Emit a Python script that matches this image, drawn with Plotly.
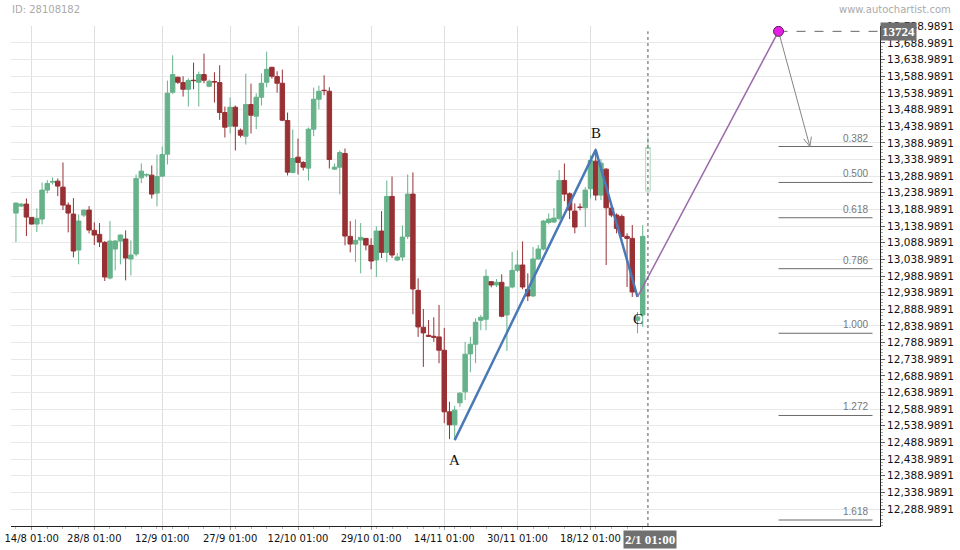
import math
import plotly.graph_objects as go

# ---------------- data ----------------
opens = [13178, 13199, 13205, 13165, 13145, 13160, 13247, 13271, 13274, 13256,
         13202, 13175, 13067, 13172, 13187, 13126, 13114, 13090, 12983, 13070,
         13094, 13100, 13040, 13055, 13284, 13292, 13292, 13238, 13289, 13355,
         13541, 13586, 13570, 13550, 13577, 13571, 13594, 13559, 13573, 13570,
         13480, 13439, 13496, 13427, 13409, 13504, 13469, 13526, 13571, 13616,
         13588, 13568, 13456, 13300, 13346, 13330, 13313, 13430, 13520, 13547,
         13544, 13310, 13316, 13357, 13108, 13085, 13097, 13102, 13081, 13037,
         13124, 13060, 13228, 13037, 13046, 13108, 13235, 12946, 12835, 12811,
         12808, 12806, 12766, 12581, 12542, 12608, 12641, 12755, 12784, 12856,
         12859, 12972, 12962, 12970, 12872, 12956, 13006, 13022, 12949, 12929,
         13040, 13070, 13150, 13151, 13162, 13276, 13236, 13184, 13196, 13194,
         13251, 13334, 13232, 13310, 13193, 13172, 13168, 13108, 13102, 12856,
         12872, 13244]
highs = [13210, 13208, 13222, 13166, 13192, 13270, 13277, 13285, 13282, 13330,
         13210, 13223, 13174, 13188, 13199, 13150, 13148, 13094, 13154, 13097,
         13114, 13126, 13096, 13294, 13327, 13297, 13321, 13354, 13378, 13576,
         13652, 13588, 13589, 13583, 13630, 13603, 13657, 13579, 13601, 13622,
         13498, 13525, 13501, 13432, 13597, 13567, 13538, 13598, 13663, 13617,
         13604, 13609, 13480, 13429, 13402, 13334, 13435, 13555, 13561, 13592,
         13556, 13327, 13366, 13372, 13154, 13159, 13148, 13103, 13102, 13138,
         13184, 13276, 13288, 13058, 13141, 13294, 13300, 12982, 12890, 12857,
         12865, 12902, 12833, 12611, 12599, 12640, 12791, 12806, 12862, 12872,
         13009, 12974, 12980, 12994, 12957, 13061, 13066, 13093, 12997, 13076,
         13082, 13157, 13177, 13193, 13307, 13327, 13240, 13207, 13207, 13256,
         13352, 13372, 13340, 13313, 13196, 13177, 13174, 13117, 13142, 12881,
         13142, 13408]
lows = [13091, 13196, 13109, 13144, 13121, 13144, 13237, 13264, 13229, 13187,
        13120, 13045, 13024, 13166, 13117, 13082, 13076, 12974, 12979, 13006,
        13024, 12976, 12991, 13048, 13268, 13286, 13222, 13198, 13287, 13324,
        13536, 13566, 13528, 13498, 13550, 13498, 13568, 13556, 13510, 13458,
        13405, 13417, 13366, 13405, 13384, 13417, 13430, 13501, 13556, 13582,
        13540, 13454, 13291, 13298, 13294, 13306, 13276, 13409, 13490, 13532,
        13312, 13309, 13234, 13081, 13060, 13031, 12997, 13066, 13009, 12986,
        13043, 13030, 13043, 13034, 13034, 13100, 12874, 12806, 12716, 12806,
        12791, 12727, 12547, 12499, 12496, 12596, 12616, 12700, 12727, 12826,
        12826, 12955, 12956, 12865, 12764, 12952, 13001, 12949, 12914, 12926,
        13038, 13066, 13144, 13149, 13156, 13214, 13160, 13117, 13186, 13136,
        13222, 13216, 13217, 13022, 13166, 13117, 13106, 12956, 12926, 12817,
        12836, 13232]
closes = [13208, 13205, 13166, 13145, 13162, 13247, 13267, 13273, 13259, 13202,
          13178, 13064, 13154, 13187, 13127, 13112, 13091, 12986, 13094, 13094,
          13112, 13043, 13052, 13282, 13304, 13294, 13235, 13288, 13354, 13538,
          13594, 13571, 13550, 13576, 13576, 13594, 13577, 13574, 13572, 13480,
          13436, 13496, 13439, 13412, 13504, 13472, 13526, 13568, 13610, 13589,
          13568, 13457, 13301, 13342, 13330, 13316, 13430, 13520, 13544, 13546,
          13339, 13316, 13360, 13109, 13085, 13096, 13105, 13082, 13034, 13124,
          13060, 13228, 13052, 13046, 13106, 13235, 12950, 12836, 12818, 12808,
          12805, 12766, 12581, 12542, 12586, 12637, 12754, 12784, 12850, 12865,
          12988, 12962, 12970, 12868, 12956, 13006, 13022, 12956, 12929, 13040,
          13070, 13154, 13160, 13163, 13276, 13235, 13187, 13136, 13195, 13247,
          13336, 13232, 13328, 13194, 13172, 13132, 13108, 13102, 12941, 12866,
          13108, 13375]

tick_idx = [3, 15, 28, 41, 54, 68, 82, 96, 110]
tick_labels = ["14/8 01:00", "28/8 01:00", "12/9 01:00", "27/9 01:00",
               "12/10 01:00", "29/10 01:00", "14/11 01:00", "30/11 01:00",
               "18/12 01:00"]
current_label = "2/1 01:00"

y_tick_first = 12288.9891
y_tick_step = 50
y_tick_count = 30

pattern_idx = [84, 111, 119]
pattern_val = [12496, 13368, 12926]
pattern_names = ["A", "B", "C"]

target_idx = 146
target_val = 13724
target_label = "13724"
arrow_end_idx = 152

fib_ratios = ["0.382", "0.500", "0.618", "0.786", "1.000", "1.272", "1.618"]
fib_values = [13378, 13270, 13164, 13011, 12817, 12570, 12256]
fib_start_idx, fib_end_idx = 146, 164

# ---------------- layout geometry ----------------
W, H = 960, 550
ML, MR, MT, MB = 11, 80, 26, 24
X0, X1 = -0.95, 165.43
Y0, Y1 = 12238, 13740

GREEN = "#66b28a"
RED = "#983034"
n = len(opens)
xs = list(range(n))
current_idx = xs[-1]

y_tickvals = [y_tick_first + y_tick_step * k for k in range(y_tick_count)]
y_ticktext = [f"{v:,.4f}" for v in y_tickvals]

fig = go.Figure()

fig.add_trace(go.Candlestick(
    x=xs[:-1], open=opens[:-1], high=highs[:-1], low=lows[:-1], close=closes[:-1],
    increasing=dict(line=dict(color=GREEN, width=1), fillcolor=GREEN),
    decreasing=dict(line=dict(color=RED, width=1), fillcolor=RED),
    whiskerwidth=0, showlegend=False, hoverinfo="skip"))

fig.add_trace(go.Candlestick(
    x=xs[-1:], open=opens[-1:], high=highs[-1:], low=lows[-1:], close=closes[-1:],
    increasing=dict(line=dict(color="#a6d6b9", width=1), fillcolor="white"),
    decreasing=dict(line=dict(color="#a6d6b9", width=1), fillcolor="white"),
    whiskerwidth=0, showlegend=False, hoverinfo="skip"))

# fib level lines
fx, fy = [], []
for v in fib_values:
    fx += [fib_start_idx, fib_end_idx, None]
    fy += [v, v, None]
fig.add_trace(go.Scatter(x=fx, y=fy, mode="lines",
                         line=dict(color="#6a6a6a", width=1),
                         showlegend=False, hoverinfo="skip"))

# dashed level line to axis
fig.add_trace(go.Scatter(x=[target_idx, X1], y=[target_val, target_val], mode="lines",
                         line=dict(color="#666", width=1, dash="dash"),
                         showlegend=False, hoverinfo="skip"))

# ABC pattern
fig.add_trace(go.Scatter(x=pattern_idx, y=pattern_val, mode="lines",
                         line=dict(color="#4a79b8", width=2.5),
                         showlegend=False, hoverinfo="skip"))

# projection C -> D
fig.add_trace(go.Scatter(x=[pattern_idx[-1], target_idx], y=[pattern_val[-1], target_val],
                         mode="lines", line=dict(color="#9c6aab", width=1.5),
                         showlegend=False, hoverinfo="skip"))

# arrow from D to first fib level with open V head
px_x = (W - ML - MR) / (X1 - X0)
px_y = (H - MT - MB) / (Y1 - Y0)
tip_x, tip_y = arrow_end_idx, fib_values[0]
sx = (target_idx - tip_x) * px_x
sy = (target_val - tip_y) * px_y
ln = math.hypot(sx, sy)
ux, uy = sx / ln, sy / ln
ax_pts, ay_pts = [target_idx, tip_x, None], [target_val, tip_y, None]
for ang in (math.radians(24), math.radians(-24)):
    rx = ux * math.cos(ang) - uy * math.sin(ang)
    ry = ux * math.sin(ang) + uy * math.cos(ang)
    ax_pts += [tip_x, tip_x + rx * 10 / px_x, None]
    ay_pts += [tip_y, tip_y + ry * 10 / px_y, None]
fig.add_trace(go.Scatter(x=ax_pts, y=ay_pts, mode="lines",
                         line=dict(color="#858585", width=1),
                         showlegend=False, hoverinfo="skip"))

# target point
fig.add_trace(go.Scatter(x=[target_idx], y=[target_val], mode="markers",
                         marker=dict(size=10, color="#e61ee6",
                                     line=dict(color="#4a2a4a", width=1)),
                         showlegend=False, hoverinfo="skip"))

# current-time dashed vertical line
fig.add_shape(type="line", x0=current_idx, x1=current_idx, y0=Y0, y1=target_val,
              xref="x", yref="y", line=dict(color="#555", width=1, dash="dot"))

ann = []
for name, xi, yv, anchor, shift in zip(pattern_names, pattern_idx, pattern_val,
                                        ["top", "bottom", "top"], [-10, 7, -12]):
    ann.append(dict(x=xi, y=yv, text=name, showarrow=False, yanchor=anchor, yshift=shift,
                    font=dict(family="Liberation Serif", size=15, color="#111")))
for r, v in zip(fib_ratios, fib_values):
    ann.append(dict(x=fib_end_idx, y=v, text=r, showarrow=False, xanchor="right",
                    yanchor="bottom", xshift=-3, yshift=1,
                    font=dict(family="Liberation Sans", size=10, color="#777")))
ann.append(dict(xref="paper", x=1, y=target_val, text="<b>" + target_label + "</b>",
                showarrow=False, xanchor="left", yanchor="middle", bgcolor="#707070",
                borderpad=1, font=dict(family="Liberation Serif", size=13, color="white")))
ann.append(dict(x=current_idx, xref="x", yref="paper", y=0, text="<b>" + current_label + "</b>",
                showarrow=False, xanchor="center", yanchor="top", yshift=-4, xshift=2,
                bgcolor="#707070", borderpad=1,
                font=dict(family="Liberation Serif", size=13, color="white")))
ann.append(dict(xref="paper", yref="paper", x=0, y=1, text="ID: 28108182", showarrow=False,
                xanchor="left", yanchor="middle", yshift=17, xshift=-1,
                font=dict(family="DejaVu Sans", size=10, color="#aaaaaa")))
ann.append(dict(xref="paper", yref="paper", x=1, y=1, text="www.autochartist.com",
                showarrow=False, xanchor="right", yanchor="middle", yshift=17, xshift=73,
                font=dict(family="DejaVu Sans", size=10, color="#aaaaaa")))

fig.update_layout(
    template="none",
    width=W, height=H,
    margin=dict(l=ML, r=MR, t=MT, b=MB, autoexpand=False),
    paper_bgcolor="white", plot_bgcolor="white",
    showlegend=False, boxgap=0.1, boxgroupgap=0.05,
    annotations=ann,
    xaxis=dict(range=[X0, X1], tickmode="array", tickvals=tick_idx, ticktext=tick_labels,
               automargin=False, ticklabeloverflow="allow",
               showgrid=True, gridcolor="#dedede", gridwidth=1, zeroline=False,
               showline=True, linecolor="#222", linewidth=1,
               ticks="outside", ticklen=3, tickcolor="#999",
               tickfont=dict(family="DejaVu Sans", size=10, color="#111"),
               minor=dict(tickvals=xs[::3], ticklen=2, tickcolor="#bbb", showgrid=False,
                          ticks="outside"),
               rangeslider=dict(visible=False), fixedrange=True),
    yaxis=dict(side="right", range=[Y0, Y1], tickmode="array", tickvals=y_tickvals,
               ticktext=y_ticktext, automargin=False, ticklabeloverflow="allow",
               showgrid=True, gridcolor="#e8e8e8", gridwidth=1,
               zeroline=False, showline=True, linecolor="#222", linewidth=1,
               ticks="outside", ticklen=4, tickcolor="#666",
               tickfont=dict(family="DejaVu Sans", size=10.5, color="#111"),
               minor=dict(tick0=y_tick_first, dtick=10, ticklen=2, tickcolor="#aaa",
                          showgrid=False, ticks="outside"),
               fixedrange=True),
)

# remove the browser's default 8px page margin so the figure fills the window exactly
fig.write_html("out.html",
               config={"displayModeBar": False, "staticPlot": True},
               post_script="document.body.style.margin='0';document.body.style.overflow='hidden';")
